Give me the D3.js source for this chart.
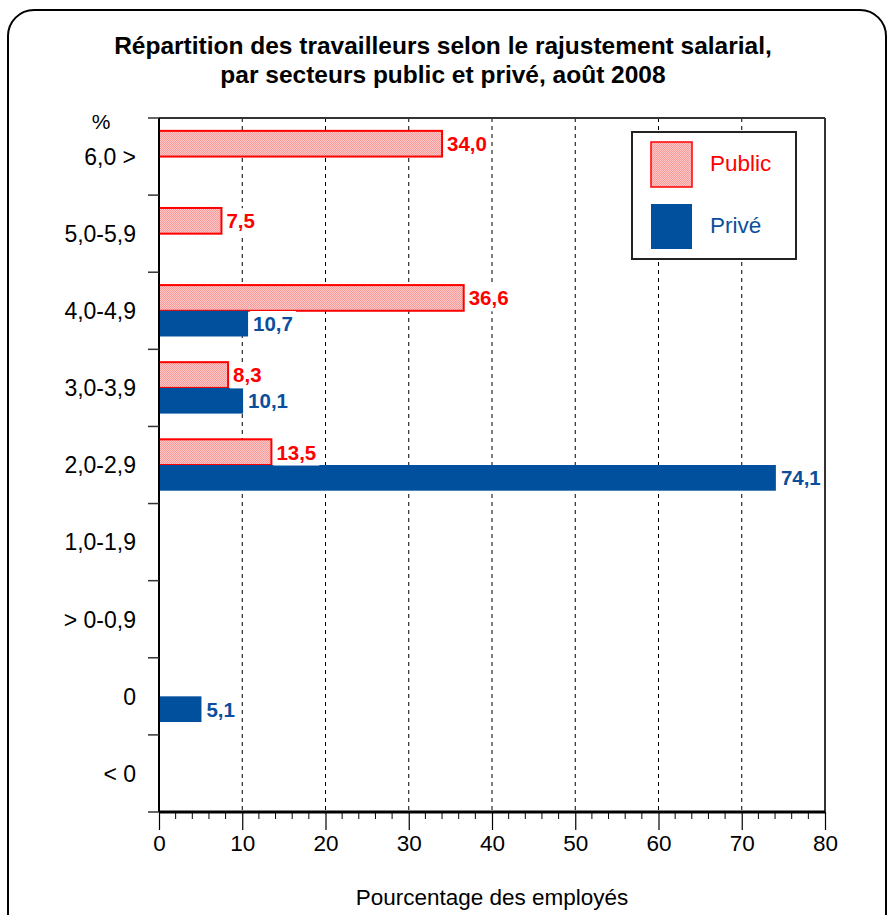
<!DOCTYPE html>
<html>
<head>
<meta charset="utf-8">
<script src="https://cdn.jsdelivr.net/npm/d3@7"></script>
<style>
  body { margin: 0; background: #fff; }
  text { font-family: "Liberation Sans", Arial, sans-serif; }
</style>
</head>
<body>
<div id="chart"></div>
<script>
// Data
const categories = ['6,0 >', '5,0-5,9', '4,0-4,9', '3,0-3,9', '2,0-2,9', '1,0-1,9', '> 0-0,9', '0', '< 0'];
const publicValues = [34.0, 7.5, 36.6, 8.3, 13.5, null, null, null, null];
const priveValues = [null, null, 10.7, 10.1, 74.1, null, null, 5.1, null];
const xTicks = [0, 10, 20, 30, 40, 50, 60, 70, 80];

const W = 887, H = 915;
const plot = { left: 159, right: 825, top: 118, bottom: 812 };

const svg = d3.select('#chart')
    .append('svg')
    .attr('width', W)
    .attr('height', H);

// Pink checker pattern for the public bars
const defs = svg.append('defs');
const pat = defs.append('pattern')
    .attr('id', 'pink')
    .attr('width', 2)
    .attr('height', 2)
    .attr('patternUnits', 'userSpaceOnUse');
pat.append('rect').attr('width', 2).attr('height', 2).attr('fill', '#ffc8c8');
pat.append('rect').attr('width', 1).attr('height', 1).attr('fill', '#f79a9a');
pat.append('rect').attr('x', 1).attr('y', 1).attr('width', 1).attr('height', 1).attr('fill', '#f79a9a');

// Outer rounded frame
svg.append('rect')
    .attr('x', 8).attr('y', 10)
    .attr('width', 878).attr('height', 940)
    .attr('rx', 26)
    .attr('fill', 'none')
    .attr('stroke', '#000')
    .attr('stroke-width', 2);

// Title
svg.append('text')
    .attr('x', 443).attr('y', 54)
    .attr('text-anchor', 'middle')
    .attr('font-weight', 'bold')
    .attr('font-size', 24.5)
    .text('Répartition des travailleurs selon le rajustement salarial,');
svg.append('text')
    .attr('x', 443).attr('y', 83)
    .attr('text-anchor', 'middle')
    .attr('font-weight', 'bold')
    .attr('font-size', 24.5)
    .text('par secteurs public et privé, août 2008');

// Scales
const x = d3.scaleLinear().domain([0, 80]).range([plot.left, plot.right]);
const y = d3.scaleBand().domain(categories).range([plot.top, plot.bottom]);
const sub = d3.scaleBand().domain(['public', 'prive']).range([0, y.bandwidth()]).paddingOuter(0.5).paddingInner(0);

// Dashed grid lines
svg.append('g')
    .selectAll('line')
    .data(xTicks.filter(d => d > 0 && d < 80))
    .join('line')
    .attr('x1', d => x(d)).attr('x2', d => x(d))
    .attr('y1', plot.top).attr('y2', plot.bottom)
    .attr('stroke', '#000')
    .attr('stroke-width', 1)
    .attr('stroke-dasharray', '4,4');

// Plot frame top and right
svg.append('line')
    .attr('x1', plot.left).attr('x2', plot.right)
    .attr('y1', plot.top).attr('y2', plot.top)
    .attr('stroke', '#333').attr('stroke-width', 2);
svg.append('line')
    .attr('x1', plot.right).attr('x2', plot.right)
    .attr('y1', plot.top).attr('y2', plot.bottom)
    .attr('stroke', '#333').attr('stroke-width', 2);

// Public bars
svg.append('g')
    .selectAll('rect')
    .data(categories.map((c, i) => ({ c, v: publicValues[i] })).filter(d => d.v != null))
    .join('rect')
    .attr('x', x(0))
    .attr('y', d => y(d.c) + sub('public'))
    .attr('width', d => x(d.v) - x(0))
    .attr('height', sub.bandwidth())
    .attr('fill', 'url(#pink)')
    .attr('stroke', '#ff0000')
    .attr('stroke-width', 2);

// Privé bars
svg.append('g')
    .selectAll('rect')
    .data(categories.map((c, i) => ({ c, v: priveValues[i] })).filter(d => d.v != null))
    .join('rect')
    .attr('x', x(0))
    .attr('y', d => y(d.c) + sub('prive'))
    .attr('width', d => x(d.v) - x(0))
    .attr('height', sub.bandwidth())
    .attr('fill', '#00509e');

const fmt = v => d3.format('.1f')(v).replace('.', ',');

// Value labels (with white background, as in the original)
function addLabels(values, key, color) {
    const g = svg.append('g');
    categories.forEach((c, i) => {
        const v = values[i];
        if (v == null) return;
        const cy = y(c) + sub(key) + sub.bandwidth() / 2;
        const bg = g.append('rect').attr('fill', '#fff');
        const t = g.append('text')
            .attr('x', x(v) + 5)
            .attr('y', cy)
            .attr('dy', '0.36em')
            .attr('font-weight', 'bold')
            .attr('font-size', 20.5)
            .attr('fill', color)
            .text(fmt(v));
        const b = t.node().getBBox();
        bg.attr('x', b.x - 3).attr('y', b.y - 1).attr('width', b.width + 6).attr('height', b.height + 3);
    });
}
addLabels(publicValues, 'public', '#ff0000');
addLabels(priveValues, 'prive', '#0b4f9c');

// Y axis: ticks at band boundaries
const yAxis = svg.append('g');
yAxis.append('line')
    .attr('x1', plot.left).attr('x2', plot.left)
    .attr('y1', plot.top).attr('y2', plot.bottom)
    .attr('stroke', '#000').attr('stroke-width', 2);
yAxis.selectAll('.ytick')
    .data(categories.map(c => y(c)).concat([plot.bottom]))
    .join('line')
    .attr('class', 'ytick')
    .attr('x1', plot.left - 11).attr('x2', plot.left)
    .attr('y1', d => d).attr('y2', d => d)
    .attr('stroke', '#333').attr('stroke-width', 1.5);
yAxis.selectAll('.ylabel')
    .data(categories)
    .join('text')
    .attr('class', 'ylabel')
    .attr('x', 136)
    .attr('y', d => y(d) + y.bandwidth() / 2)
    .attr('dy', '0.36em')
    .attr('text-anchor', 'end')
    .attr('font-size', 23)
    .text(d => d);
svg.append('text')
    .attr('x', 101).attr('y', 129)
    .attr('text-anchor', 'middle')
    .attr('font-size', 21)
    .text('%');

// X axis
const xAxis = svg.append('g')
    .attr('transform', `translate(0, ${plot.bottom})`)
    .call(d3.axisBottom(x).tickValues(xTicks).tickSize(18).tickPadding(5).tickFormat(d3.format('d')));
xAxis.select('.domain').attr('stroke-width', 3).attr('d', `M${plot.left},0H${plot.right}`);
xAxis.selectAll('.tick text').attr('font-size', 22.5).attr('font-family', '"Liberation Sans", Arial, sans-serif').attr('fill', '#000');
xAxis.selectAll('.tick line').attr('stroke-width', 1.2);
xAxis.selectAll('.minor')
    .data(d3.range(0, 81, 2).filter(d => d % 10 !== 0))
    .join('line')
    .attr('class', 'minor')
    .attr('x1', d => x(d)).attr('x2', d => x(d))
    .attr('y1', 0).attr('y2', 7)
    .attr('stroke', '#000');

svg.append('text')
    .attr('x', 492).attr('y', 905)
    .attr('text-anchor', 'middle')
    .attr('font-size', 22.5)
    .text('Pourcentage des employés');

// Legend
const legend = svg.append('g');
legend.append('rect')
    .attr('x', 632).attr('y', 132)
    .attr('width', 164).attr('height', 127)
    .attr('fill', '#fff')
    .attr('stroke', '#222')
    .attr('stroke-width', 2);
const legendItems = [
    { label: 'Public', fill: 'url(#pink)', stroke: '#ff0000', color: '#ff0000' },
    { label: 'Privé', fill: '#00509e', stroke: 'none', color: '#0b4f9c' }
];
const lg = legend.selectAll('.item')
    .data(legendItems)
    .join('g')
    .attr('class', 'item')
    .attr('transform', (d, i) => `translate(651, ${142 + i * 62})`);
lg.append('rect')
    .attr('width', 41).attr('height', 45)
    .attr('fill', d => d.fill)
    .attr('stroke', d => d.stroke)
    .attr('stroke-width', 1.5);
lg.append('text')
    .attr('x', 59).attr('y', 21)
    .attr('dy', '0.36em')
    .attr('font-size', 22.5)
    .attr('fill', d => d.color)
    .text(d => d.label);
</script>
</body>
</html>
